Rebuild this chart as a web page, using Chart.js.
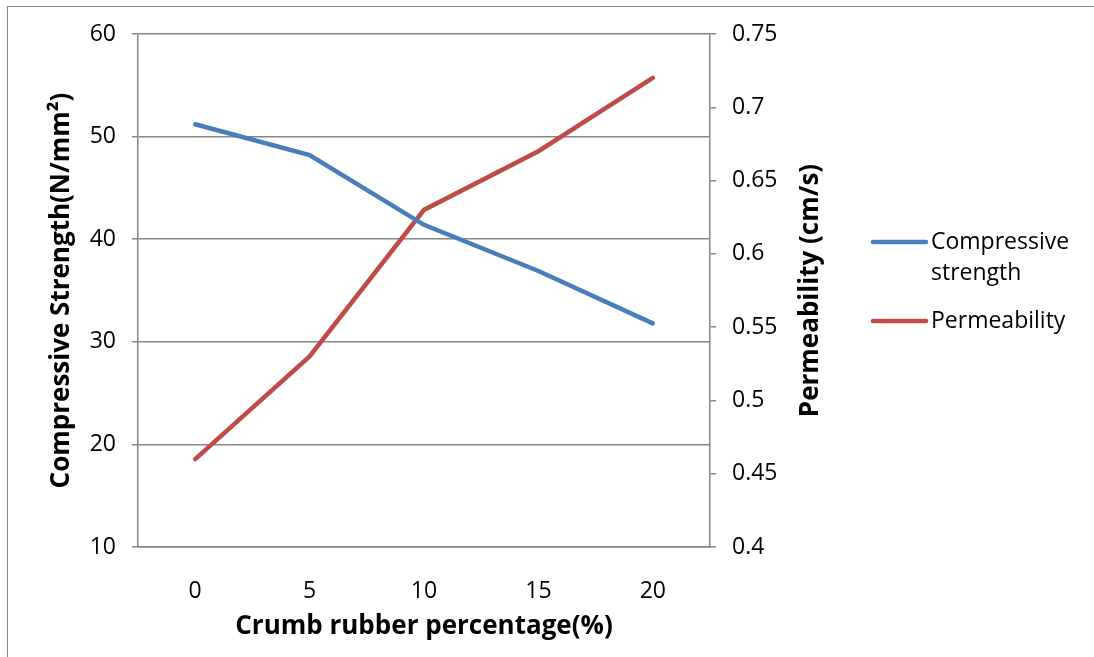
<!DOCTYPE html>
<html>
<head>
<meta charset="utf-8">
<script src="https://cdn.jsdelivr.net/npm/chart.js@4"></script>
<style>
  html, body { margin: 0; padding: 0; background: #fff; }
  #wrap { position: relative; width: 1094px; height: 657px; overflow: hidden; }
  #frame { position: absolute; left: 7px; top: 6px; width: 1100px; height: 670px;
           border-left: 1px solid #888; border-top: 1px solid #888; }
  canvas { position: absolute; left: 0; top: 0; }
</style>
</head>
<body>
<div id="wrap">
  <div id="frame"></div>
  <canvas id="chart" width="1094" height="657"></canvas>
</div>
<script>
// crumb rubber content (%)
const categories = ["0", "5", "10", "15", "20"];
const strengthValues = [51.2, 48.2, 41.4, 36.9, 31.8];
const permeabilityValues = [0.46, 0.53, 0.63, 0.67, 0.72];
const seriesNames = ["Compressive strength", "Permeability"];
const seriesColors = ["#4A7EBB", "#BE4B48"];

const xTitle = "Crumb rubber percentage(%)";
const yTitle = "Compressive Strength(N/mm\u00B2)";
const y1Title = "Permeability (cm/s)";

const axisGray = "#868686";
const tickFont = { family: "'Open Sans'", size: 23 };
const titleFont = "bold 26px 'Open Sans'";

// Excel style titles (both vertical ones read bottom-to-top) + legend on the right
const decorations = {
  id: "decorations",
  afterDraw(chart) {
    const ctx = chart.ctx;
    const a = chart.chartArea;
    const midY = (a.top + a.bottom) / 2;
    ctx.save();
    ctx.fillStyle = "#000";
    ctx.font = titleFont;
    ctx.textAlign = "center";
    ctx.textBaseline = "middle";
    ctx.fillText(xTitle, (a.left + a.right) / 2, 627);

    ctx.translate(62, midY);
    ctx.rotate(-Math.PI / 2);
    ctx.fillText(yTitle, 0, 0);
    ctx.restore();

    ctx.save();
    ctx.fillStyle = "#000";
    ctx.font = titleFont;
    ctx.textAlign = "center";
    ctx.textBaseline = "middle";
    ctx.translate(811, midY);
    ctx.rotate(-Math.PI / 2);
    ctx.fillText(y1Title, 0, 0);
    ctx.restore();

    // legend
    ctx.save();
    ctx.font = "23px 'Open Sans'";
    ctx.textBaseline = "middle";
    ctx.textAlign = "left";
    const legendRows = [242, 321];
    chart.data.datasets.forEach((ds, i) => {
      const y = legendRows[i];
      ctx.strokeStyle = ds.borderColor;
      ctx.lineWidth = 4.5;
      ctx.lineCap = "round";
      ctx.beginPath();
      ctx.moveTo(873, y);
      ctx.lineTo(926, y);
      ctx.stroke();
      ctx.fillStyle = "#000";
      const words = ds.label.split(" ");
      const lines = ctx.measureText(ds.label).width > 150 ? words : [ds.label];
      lines.forEach((t, j) => ctx.fillText(t, 931, y + j * 31));
    });
    ctx.restore();
  }
};

new Chart(document.getElementById("chart"), {
  type: "line",
  data: {
    labels: categories,
    datasets: [
      {
        label: seriesNames[0],
        data: strengthValues,
        yAxisID: "y",
        borderColor: seriesColors[0],
        backgroundColor: seriesColors[0],
        borderWidth: 4.5,
        borderCapStyle: "round",
        pointRadius: 0,
        tension: 0
      },
      {
        label: seriesNames[1],
        data: permeabilityValues,
        yAxisID: "y1",
        borderColor: seriesColors[1],
        backgroundColor: seriesColors[1],
        borderWidth: 4.5,
        borderCapStyle: "round",
        pointRadius: 0,
        tension: 0
      }
    ]
  },
  options: {
    responsive: false,
    animation: false,
    layout: { padding: { top: 34, left: 0, right: 0, bottom: 0 } },
    plugins: { legend: { display: false }, tooltip: { enabled: false } },
    scales: {
      x: {
        offset: true,
        grid: { display: false, offset: true },
        border: { display: true, color: axisGray, width: 1.5 },
        ticks: { color: "#000", font: tickFont, padding: 23, maxRotation: 0 },
        afterFit(s) { s.height = 110; }
      },
      y: {
        position: "left",
        min: 10,
        max: 60,
        ticks: { stepSize: 10, color: "#000", font: tickFont, padding: 16 },
        grid: { color: axisGray, lineWidth: 1.5, tickLength: 6 },
        border: { display: true, color: axisGray, width: 1.5 },
        afterFit(s) { s.width = 138; }
      },
      y1: {
        position: "right",
        min: 0.4,
        max: 0.75,
        ticks: {
          stepSize: 0.05,
          color: "#000",
          font: tickFont,
          padding: 16,
          callback: v => String(parseFloat(v.toFixed(2)))
        },
        grid: { drawOnChartArea: false, color: axisGray, lineWidth: 1.5, tickLength: 6 },
        border: { display: true, color: axisGray, width: 1.5 },
        afterFit(s) { s.width = 384; }
      }
    }
  },
  plugins: [decorations]
});
</script>
</body>
</html>
